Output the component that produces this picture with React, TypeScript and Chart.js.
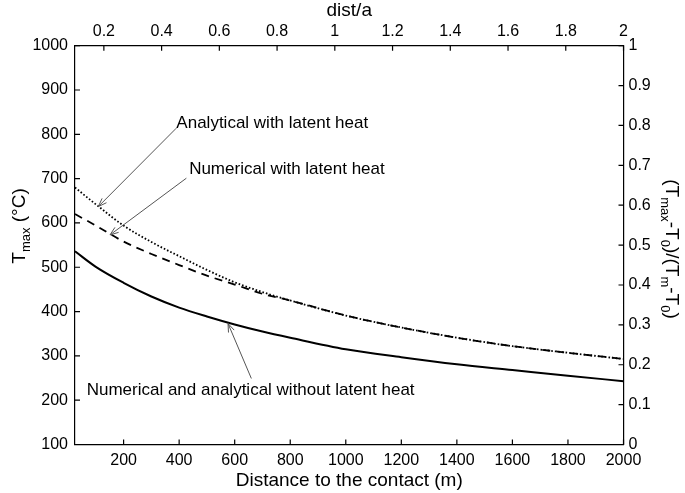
import { useEffect, useRef } from 'react';
import { Chart, registerables } from 'chart.js';

Chart.register(...registerables);

// distance to the contact (m)
const distance = [25, 100, 200, 300, 400, 500, 600, 700, 800, 1000, 1200, 1400, 1600, 1800, 2000];
// T max (°C) for each curve
const analyticalLatent = [680, 642, 594, 557, 525, 494, 466, 444, 425, 391, 364, 341, 322, 307, 293];
const numericalLatent = [620, 594, 558, 530, 505, 481, 461, 440, 425, 391, 364, 341, 322, 307, 293];
const withoutLatent = [536, 501, 465, 434, 409, 389, 371, 355, 341, 315, 297, 281, 268, 255, 243];

const bottomTicks = [200, 400, 600, 800, 1000, 1200, 1400, 1600, 1800, 2000];
const topTicks = [0.2, 0.4, 0.6, 0.8, 1, 1.2, 1.4, 1.6, 1.8, 2];
const leftTicks = [100, 200, 300, 400, 500, 600, 700, 800, 900, 1000];
const rightTicks = [0, 0.1, 0.2, 0.3, 0.4, 0.5, 0.6, 0.7, 0.8, 0.9, 1];

const FONT = '"Liberation Sans", Arial, Helvetica, sans-serif';

// labels with arrows, in data units (m, °C)
const notes = [
  { text: 'Analytical with latent heat', x: 390, y: 825, from: [390, 814], to: [109, 637] },
  { text: 'Numerical with latent heat', x: 436, y: 721, from: [426, 701], to: [151, 573] },
  { text: 'Numerical and analytical without latent heat', x: 67, y: 223, from: [660, 249], to: [576, 373] },
];

type Part = { t: string; sub?: boolean };

function drawRich(ctx: CanvasRenderingContext2D, parts: Part[], x: number, y: number, rot: number) {
  ctx.save();
  ctx.translate(x, y);
  ctx.rotate(rot);
  ctx.textBaseline = 'middle';
  ctx.textAlign = 'left';
  ctx.fillStyle = '#000';
  let w = 0;
  for (const p of parts) {
    ctx.font = `${p.sub ? 13 : 19}px ${FONT}`;
    w += ctx.measureText(p.t).width;
  }
  let cx = -w / 2;
  for (const p of parts) {
    ctx.font = `${p.sub ? 13 : 19}px ${FONT}`;
    ctx.fillText(p.t, cx, p.sub ? 6 : 0);
    cx += ctx.measureText(p.t).width;
  }
  ctx.restore();
}

const decorPlugin = {
  id: 'decor',
  afterDraw(chart: any) {
    const ctx: CanvasRenderingContext2D = chart.ctx;
    const { x, x2, y, y2 } = chart.scales;
    const area = chart.chartArea;
    ctx.save();
    // inward tick marks
    ctx.strokeStyle = '#000';
    ctx.lineWidth = 1.2;
    ctx.beginPath();
    bottomTicks.forEach((v) => {
      const px = x.getPixelForValue(v);
      ctx.moveTo(px, area.bottom);
      ctx.lineTo(px, area.bottom - 5);
    });
    topTicks.forEach((v) => {
      const px = x2.getPixelForValue(v);
      ctx.moveTo(px, area.top);
      ctx.lineTo(px, area.top + 5);
    });
    leftTicks.forEach((v) => {
      const py = y.getPixelForValue(v);
      ctx.moveTo(area.left, py);
      ctx.lineTo(area.left + 5, py);
    });
    rightTicks.forEach((v) => {
      const py = y2.getPixelForValue(v);
      ctx.moveTo(area.right, py);
      ctx.lineTo(area.right - 5, py);
    });
    ctx.stroke();

    // annotations
    ctx.font = `17px ${FONT}`;
    ctx.fillStyle = '#000';
    ctx.textBaseline = 'middle';
    ctx.textAlign = 'left';
    ctx.strokeStyle = '#555';
    ctx.lineWidth = 1;
    for (const n of notes) {
      ctx.fillText(n.text, x.getPixelForValue(n.x), y.getPixelForValue(n.y));
      const x0 = x.getPixelForValue(n.from[0]);
      const y0 = y.getPixelForValue(n.from[1]);
      const x1 = x.getPixelForValue(n.to[0]);
      const y1 = y.getPixelForValue(n.to[1]);
      const a = Math.atan2(y1 - y0, x1 - x0);
      ctx.beginPath();
      ctx.moveTo(x0, y0);
      ctx.lineTo(x1, y1);
      ctx.moveTo(x1 - 9 * Math.cos(a - 0.35), y1 - 9 * Math.sin(a - 0.35));
      ctx.lineTo(x1, y1);
      ctx.lineTo(x1 - 9 * Math.cos(a + 0.35), y1 - 9 * Math.sin(a + 0.35));
      ctx.stroke();
    }

    // axis titles
    ctx.font = `19px ${FONT}`;
    ctx.textAlign = 'center';
    ctx.fillText('dist/a', (area.left + area.right) / 2, 11);
    ctx.fillText('Distance to the contact (m)', (area.left + area.right) / 2, 481);
    ctx.restore();

    drawRich(ctx, [{ t: 'T' }, { t: 'max', sub: true }, { t: ' (°C)' }], 20, 226, -Math.PI / 2);
    drawRich(
      ctx,
      [
        { t: '(T' }, { t: 'max', sub: true }, { t: '-T' }, { t: '0', sub: true },
        { t: ')/(T' }, { t: 'm', sub: true }, { t: '-T' }, { t: '0', sub: true }, { t: ')' },
      ],
      671,
      249,
      Math.PI / 2,
    );
  },
};

const tickFont = { family: FONT, size: 16 };
const plain = (v: any) => String(v);

export default function App() {
  const canvasRef = useRef<HTMLCanvasElement | null>(null);

  useEffect(() => {
    if (!canvasRef.current) return;
    const toPoints = (vals: number[]) => distance.map((d, i) => ({ x: d, y: vals[i] }));

    const chart = new Chart(canvasRef.current, {
      type: 'line',
      data: {
        datasets: [
          {
            label: 'Numerical and analytical without latent heat',
            data: toPoints(withoutLatent),
            borderColor: '#000',
            borderWidth: 2,
            pointRadius: 0,
            cubicInterpolationMode: 'monotone',
          },
          {
            label: 'Numerical with latent heat',
            data: toPoints(numericalLatent),
            borderColor: '#000',
            borderWidth: 1.8,
            borderDash: [8, 6],
            pointRadius: 0,
            cubicInterpolationMode: 'monotone',
          },
          {
            label: 'Analytical with latent heat',
            data: toPoints(analyticalLatent),
            borderColor: '#000',
            borderWidth: 1.8,
            borderDash: [1.6, 2],
            pointRadius: 0,
            cubicInterpolationMode: 'monotone',
          },
        ],
      },
      options: {
        animation: false,
        responsive: true,
        maintainAspectRatio: false,
        layout: { padding: 0 },
        plugins: { legend: { display: false }, tooltip: { enabled: false } },
        scales: {
          x: {
            type: 'linear',
            position: 'bottom',
            min: 25,
            max: 2000,
            afterBuildTicks: (s: any) => { s.ticks = bottomTicks.map((v) => ({ value: v })); },
            afterFit: (s: any) => { s.height = 48.5; },
            grid: { display: false, drawTicks: false },
            border: { display: true, color: '#000', width: 1.2 },
            ticks: { color: '#000', font: tickFont, padding: 6, maxRotation: 0, autoSkip: false, callback: plain },
          },
          x2: {
            type: 'linear',
            position: 'top',
            min: 0.1,
            max: 2,
            afterBuildTicks: (s: any) => { s.ticks = topTicks.map((v) => ({ value: v })); },
            afterFit: (s: any) => { s.height = 45.7; },
            grid: { display: false, drawTicks: false },
            border: { display: true, color: '#000', width: 1.2 },
            ticks: { color: '#000', font: tickFont, padding: 5, maxRotation: 0, autoSkip: false, callback: plain },
          },
          y: {
            type: 'linear',
            position: 'left',
            min: 100,
            max: 1000,
            afterBuildTicks: (s: any) => { s.ticks = leftTicks.map((v) => ({ value: v })); },
            afterFit: (s: any) => { s.width = 75; },
            grid: { display: false, drawTicks: false },
            border: { display: true, color: '#000', width: 1.2 },
            ticks: { color: '#000', font: tickFont, padding: 7, autoSkip: false, callback: plain },
          },
          y2: {
            type: 'linear',
            position: 'right',
            min: 0,
            max: 1,
            afterBuildTicks: (s: any) => { s.ticks = rightTicks.map((v) => ({ value: v })); },
            afterFit: (s: any) => { s.width = 61.5; },
            grid: { display: false, drawTicks: false },
            border: { display: true, color: '#000', width: 1.2 },
            ticks: { color: '#000', font: tickFont, padding: 5, autoSkip: false, callback: plain },
          },
        },
      },
      plugins: [decorPlugin],
    });

    return () => chart.destroy();
  }, []);

  return (
    <div style={{ position: 'fixed', left: 0, top: 0, width: 685, height: 493, background: '#fff' }}>
      <canvas ref={canvasRef} />
    </div>
  );
}
